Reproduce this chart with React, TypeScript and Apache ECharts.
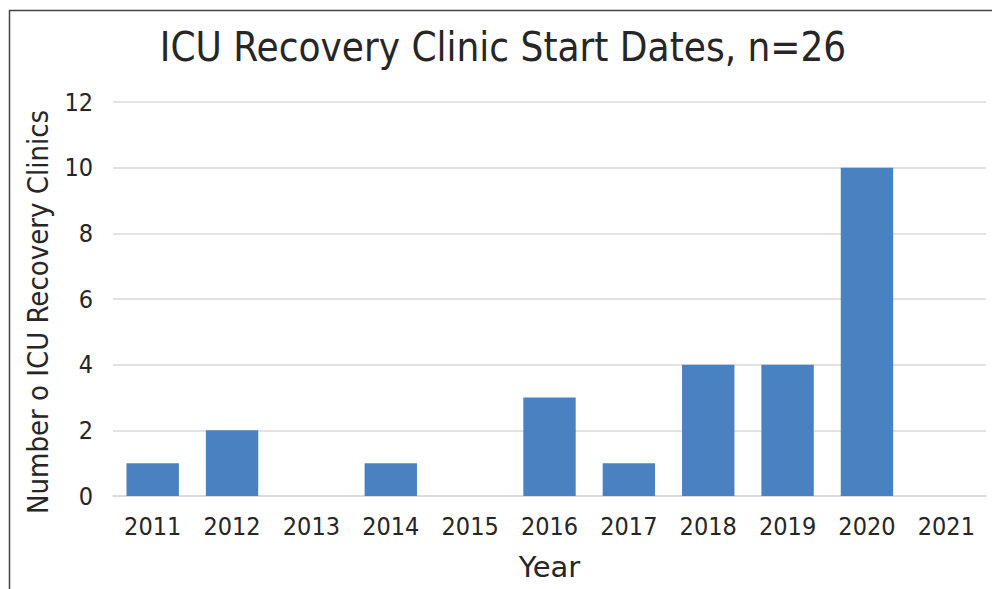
import React, { useEffect, useRef } from "react";
import * as echarts from "echarts";

const categories = ["2011", "2012", "2013", "2014", "2015", "2016", "2017", "2018", "2019", "2020", "2021"];
const clinics = [1, 2, 0, 1, 0, 3, 1, 4, 4, 10, 0];
const titleText = "ICU Recovery Clinic Start Dates, n=26";
const xName = "Year";
const yName = "Number o ICU Recovery Clinics";

const FONT = "DejaVu Sans Condensed, DejaVu Sans, sans-serif";
const FONT_WIDE = "DejaVu Sans, sans-serif";
const TEXT = "#262626";

export default function App() {
  const ref = useRef<HTMLDivElement>(null);
  useEffect(() => {
    const chart = echarts.init(ref.current!, null, { renderer: "svg" });
    chart.setOption({
      animation: false,
      backgroundColor: "#ffffff",
      title: {
        text: titleText,
        left: 498,
        textAlign: "center",
        top: 22,
        textStyle: { fontFamily: FONT, fontSize: 40, fontWeight: "normal", color: TEXT },
      },
      graphic: [
        { type: "line", shape: { x1: 9, y1: 10.5, x2: 992, y2: 10.5 }, style: { stroke: "#444", lineWidth: 1.5 } },
        { type: "line", shape: { x1: 9.5, y1: 10, x2: 9.5, y2: 589 }, style: { stroke: "#444", lineWidth: 1.5 } },
        {
          type: "text",
          x: 38,
          y: 312,
          rotation: Math.PI / 2,
          style: {
            text: yName,
            fontFamily: FONT,
            fontSize: 29,
            fill: TEXT,
            align: "center",
            verticalAlign: "middle",
          },
        },
      ],
      grid: { left: 113, right: 6, top: 102, bottom: 93 },
      xAxis: {
        type: "category",
        data: categories,
        name: xName,
        nameLocation: "middle",
        nameGap: 56,
        nameTextStyle: { fontFamily: FONT_WIDE, fontSize: 29, color: TEXT },
        axisLine: { lineStyle: { color: "#d9d9d9", width: 1.5 } },
        axisTick: { show: false },
        axisLabel: { fontFamily: FONT, fontSize: 25, color: TEXT, margin: 18 },
      },
      yAxis: {
        type: "value",
        min: 0,
        max: 12,
        interval: 2,
        axisLine: { show: false },
        axisTick: { show: false },
        axisLabel: { fontFamily: FONT, fontSize: 25, color: TEXT, margin: 20 },
        splitLine: { lineStyle: { color: "#d9d9d9", width: 1.5 } },
      },
      series: [
        {
          type: "bar",
          data: clinics,
          barCategoryGap: "34%",
          itemStyle: { color: "#4a81c0" },
        },
      ],
    });
    return () => chart.dispose();
  }, []);
  return (
    <div
      ref={ref}
      style={{ position: "fixed", left: 0, top: 0, width: 992, height: 589 }}
    />
  );
}
